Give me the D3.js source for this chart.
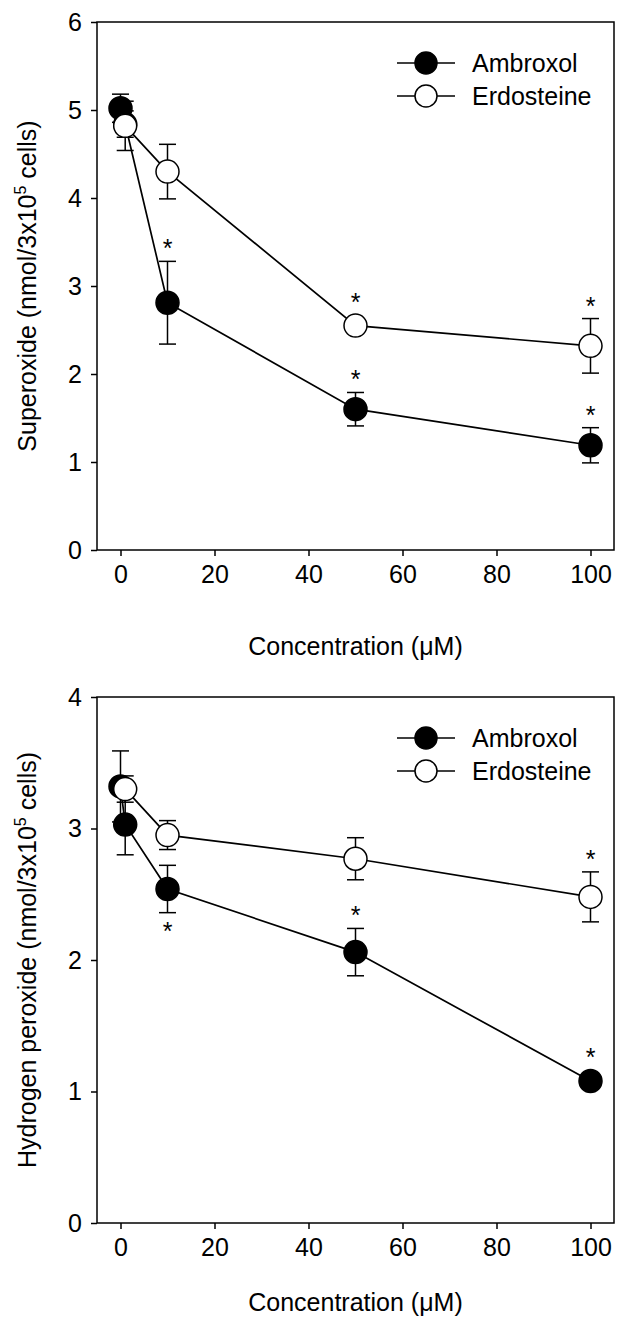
<!DOCTYPE html>
<html>
<head>
<meta charset="utf-8">
<script src="https://cdn.jsdelivr.net/npm/d3@7"></script>
<style>
  body { margin: 0; background: #fff; }
  svg { display: block; font-family: "Liberation Sans", Arial, sans-serif; }
</style>
</head>
<body>
<div id="chart"></div>
<script>
// concentrations (uM)
var ambConc = [0, 1, 10, 50, 100];
var erdConc = [1, 10, 50, 100];

// superoxide panel
var supAmb = [5.02, 4.84, 2.81, 1.60, 1.19];
var supAmbErr = [0.16, 0.15, 0.47, 0.19, 0.20];
var supAmbStar = ["", "", "up", "up", "up"];
var supErd = [4.82, 4.30, 2.55, 2.32];
var supErdErr = [0.28, 0.31, 0.05, 0.31];
var supErdStar = ["", "", "up", "up"];

// hydrogen peroxide panel
var hpAmb = [3.32, 3.03, 2.54, 2.06, 1.08];
var hpAmbErr = [0.27, 0.23, 0.18, 0.18, 0.06];
var hpAmbStar = ["", "", "down", "up", "up"];
var hpErd = [3.30, 2.95, 2.77, 2.48];
var hpErdErr = [0.10, 0.11, 0.16, 0.19];
var hpErdStar = ["", "", "", "up"];

var xTicks = [0, 20, 40, 60, 80, 100];
var seriesNames = ["Ambroxol", "Erdosteine"];

var svg = d3.select("#chart").append("svg")
    .attr("width", 617)
    .attr("height", 1326);

function zip(xs, ys, es, st) {
  return xs.map(function (x, i) { return { x: x, y: ys[i], e: es[i], star: st[i] }; });
}

function panel(top, bottom, yMax, yTicks, yLabel, titleY, series) {
  var x = d3.scaleLinear().domain([-5, 105]).range([97, 614]);
  var y = d3.scaleLinear().domain([0, yMax]).range([bottom, top]);
  var g = svg.append("g");

  g.append("g")
    .attr("transform", "translate(0," + bottom + ")")
    .call(d3.axisBottom(x).tickValues(xTicks).tickFormat(d3.format("d"))
      .tickSize(6).tickSizeOuter(0).tickPadding(9))
    .call(function (a) { a.select(".domain").remove(); });
  g.append("g")
    .attr("transform", "translate(97,0)")
    .call(d3.axisLeft(y).tickValues(yTicks).tickFormat(d3.format("d"))
      .tickSize(6).tickSizeOuter(0).tickPadding(9))
    .call(function (a) { a.select(".domain").remove(); });
  g.selectAll(".tick text").attr("font-size", 25).attr("fill", "#000")
    .attr("font-family", "Liberation Sans, Arial, sans-serif");
  g.selectAll(".tick line").attr("stroke", "#000").attr("stroke-width", 1.5);

  g.append("rect")
    .attr("x", 97).attr("y", top)
    .attr("width", 614 - 97).attr("height", bottom - top)
    .attr("fill", "none").attr("stroke", "#000").attr("stroke-width", 1.5);

  g.append("text")
    .attr("x", (97 + 614) / 2).attr("y", titleY)
    .attr("text-anchor", "middle").attr("font-size", 25)
    .text("Concentration (\u03BCM)");

  var yl = g.append("text")
    .attr("transform", "translate(36," + (top + bottom) / 2 + ") rotate(-90)")
    .attr("text-anchor", "middle").attr("font-size", 25);
  yl.append("tspan").text(yLabel + " (nmol/3x10");
  yl.append("tspan").attr("font-size", 16).attr("dy", -10).text("5");
  yl.append("tspan").attr("dy", 10).text(" cells)");

  var line = d3.line().x(function (d) { return x(d.x); }).y(function (d) { return y(d.y); });

  series.forEach(function (s) {
    var sg = g.append("g");
    sg.append("path").datum(s.data)
      .attr("d", line).attr("fill", "none").attr("stroke", "#000").attr("stroke-width", 1.7);
    var eb = sg.selectAll(".eb").data(s.data).enter().append("g");
    eb.append("line")
      .attr("x1", function (d) { return x(d.x); }).attr("x2", function (d) { return x(d.x); })
      .attr("y1", function (d) { return y(d.y - d.e); }).attr("y2", function (d) { return y(d.y + d.e); })
      .attr("stroke", "#000").attr("stroke-width", 1.5);
    [-1, 1].forEach(function (k) {
      eb.append("line")
        .attr("x1", function (d) { return x(d.x) - 8.5; }).attr("x2", function (d) { return x(d.x) + 8.5; })
        .attr("y1", function (d) { return y(d.y + k * d.e); }).attr("y2", function (d) { return y(d.y + k * d.e); })
        .attr("stroke", "#000").attr("stroke-width", 1.5);
    });
    sg.selectAll("circle").data(s.data).enter().append("circle")
      .attr("cx", function (d) { return x(d.x); })
      .attr("cy", function (d) { return y(d.y); })
      .attr("r", 11.5)
      .attr("fill", s.fill).attr("stroke", "#000").attr("stroke-width", 1.5);
    sg.selectAll(".star").data(s.data.filter(function (d) { return d.star; })).enter().append("text")
      .attr("x", function (d) { return x(d.x); })
      .attr("y", function (d) {
        if (d.star === "down") return Math.max(y(d.y - d.e), y(d.y) + 11) + 27;
        return Math.min(y(d.y + d.e), y(d.y) - 11) - 4;
      })
      .attr("text-anchor", "middle").attr("font-size", 25)
      .text("*");
  });

  // legend
  series.forEach(function (s, i) {
    var ly = top + 41 + i * 33;
    g.append("line").attr("x1", 397).attr("x2", 455).attr("y1", ly).attr("y2", ly)
      .attr("stroke", "#000").attr("stroke-width", 1.5);
    g.append("circle").attr("cx", 426).attr("cy", ly).attr("r", 11)
      .attr("fill", s.fill).attr("stroke", "#000").attr("stroke-width", 1.5);
    g.append("text").attr("x", 472).attr("y", ly + 9).attr("font-size", 25).text(s.name);
  });
}

panel(22, 550, 6, [0, 1, 2, 3, 4, 5, 6], "Superoxide", 655, [
  { name: seriesNames[0], fill: "#000", data: zip(ambConc, supAmb, supAmbErr, supAmbStar) },
  { name: seriesNames[1], fill: "#fff", data: zip(erdConc, supErd, supErdErr, supErdStar) }
]);

panel(697, 1223, 4, [0, 1, 2, 3, 4], "Hydrogen peroxide", 1311, [
  { name: seriesNames[0], fill: "#000", data: zip(ambConc, hpAmb, hpAmbErr, hpAmbStar) },
  { name: seriesNames[1], fill: "#fff", data: zip(erdConc, hpErd, hpErdErr, hpErdStar) }
]);
</script>
</body>
</html>
